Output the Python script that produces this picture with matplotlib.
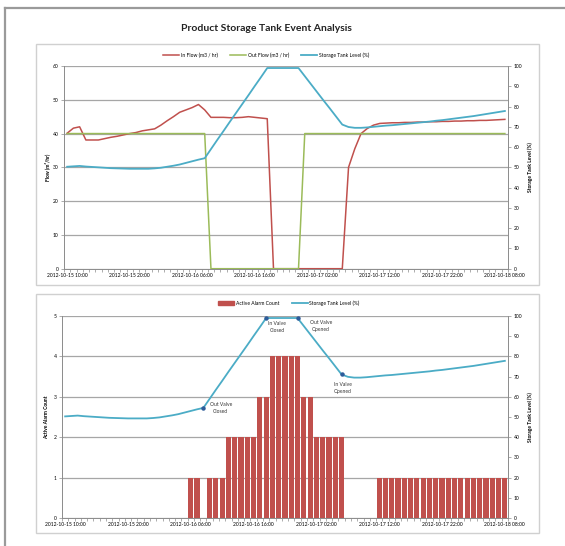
import matplotlib
matplotlib.use("Agg")
import matplotlib.pyplot as plt
from matplotlib.patches import FancyBboxPatch, Patch
from matplotlib.lines import Line2D

plt.rcParams['font.family'] = ['Lato', 'DejaVu Sans']

# hourly timestamps, 2012-10-15 10:00 .. 2012-10-18 08:00
hours = list(range(71))
tick_idx = [0, 10, 20, 30, 40, 50, 60, 70]
tick_labels = ["2012-10-15 10:00", "2012-10-15 20:00", "2012-10-16 06:00",
               "2012-10-16 16:00", "2012-10-17 02:00", "2012-10-17 12:00",
               "2012-10-17 22:00", "2012-10-18 08:00"]

in_flow = [40.1, 41.6, 42.0, 38.1, 38.1, 38.1, 38.5, 38.9, 39.2, 39.6,
           40.0, 40.3, 40.8, 41.1, 41.4, 42.5, 43.8, 45.0, 46.3, 47.0,
           47.7, 48.6, 47.0, 44.8, 44.8, 44.8, 44.7, 44.7, 44.8, 45.0,
           44.8, 44.6, 44.4, 0, 0, 0, 0, 0, 0, 0,
           0, 0, 0, 0, 0, 30.0, 35.5, 40.0, 41.5, 42.5,
           43.0, 43.1, 43.2, 43.2, 43.3, 43.3, 43.4, 43.4, 43.5, 43.5,
           43.6, 43.6, 43.7, 43.7, 43.8, 43.8, 43.9, 43.9, 44.0, 44.1, 44.2]

out_flow = [40] * 23 + [0] * 15 + [40] * 33

tank_level = [50.3, 50.5, 50.7, 50.4, 50.2, 50.0, 49.8, 49.6, 49.5, 49.4,
              49.3, 49.3, 49.3, 49.3, 49.5, 49.8, 50.3, 50.8, 51.4, 52.2,
              53.0, 53.8, 54.5, 59.0, 63.5, 67.9, 72.4, 76.8, 81.2, 85.6,
              90.1, 94.5, 99.0, 99.0, 99.0, 99.0, 99.0, 99.0, 95.0, 91.0,
              87.0, 83.0, 79.1, 75.1, 71.1, 69.9, 69.5, 69.5, 69.7, 70.0,
              70.3, 70.6, 70.8, 71.1, 71.4, 71.7, 72.0, 72.3, 72.6, 73.0,
              73.3, 73.7, 74.1, 74.5, 74.9, 75.3, 75.8, 76.3, 76.8, 77.3, 77.8]

alarm_count = [0] * 20 + [1, 1, 0, 1, 1, 1, 2, 2, 2, 2, 2, 3, 3, 4, 4, 4, 4, 4,
                          3, 3, 2, 2, 2, 2, 2, 0, 0, 0, 0, 0] + [1] * 21

event_idx = [22, 32, 37, 44]
event_text = ["Out Valve\nClosed", "In Valve\nClosed", "Out Valve\nOpened", "In Valve\nOpened"]
event_offset = [(12.5, 0), (8, -6.5), (17, -6), (1, -9.5)]

RED = "#C0504D"
GREEN = "#9BBB59"
BLUE = "#4BACC6"
GRID = "#A6A6A6"
AXIS = "#8C8C8C"
FS = 3.6

W, H = 565, 546
fig = plt.figure(figsize=(W / 100, H / 100), dpi=100)

# outer frame lines (left and top)
fig.add_artist(Line2D([5 / W, 5 / W], [0, 1 - 8 / H], color="#9A9A9A", lw=1.6))
fig.add_artist(Line2D([5 / W, 1], [1 - 8 / H, 1 - 8 / H], color="#9A9A9A", lw=1.6))

# chart boxes
for y0, y1 in [(44, 285), (294, 533)]:
    fig.add_artist(FancyBboxPatch((36 / W, 1 - y1 / H), 503 / W, (y1 - y0) / H,
                                  boxstyle="square,pad=0", fc="none", ec="#D0D0D0", lw=1.0))

fig.text(0.471, 0.947, "Product Storage Tank Event Analysis", ha="center", va="center",
         fontsize=7.5, fontweight="bold", color="#222222")


def style_axes(ax, ax2):
    ax.set_xlim(-0.5, len(hours) - 0.5)
    ax.set_xticks(tick_idx)
    ax.set_xticklabels(tick_labels)
    ax.set_xticks([i - 0.5 for i in range(len(hours) + 1)], minor=True)
    ax.tick_params(axis="x", which="major", length=0, labelsize=FS, pad=3)
    ax.tick_params(axis="x", which="minor", length=2, width=0.5, color=AXIS)
    ax.tick_params(axis="y", length=2, width=0.5, color=AXIS, labelsize=FS, pad=2)
    ax2.tick_params(axis="y", length=2, width=0.5, color=AXIS, labelsize=FS, pad=2)
    ax.grid(axis="y", color=GRID, lw=0.9)
    ax.set_axisbelow(True)
    for a in (ax, ax2):
        a.spines["top"].set_visible(False)
        for s in ["left", "right", "bottom"]:
            a.spines[s].set_color(AXIS)
            a.spines[s].set_linewidth(0.6)


# ---- top chart: flows and level ----
ax1 = fig.add_axes([64 / W, 1 - 268.7 / H, 444 / W, 202.7 / H])
ax1b = ax1.twinx()
ax1.plot(hours, in_flow, color=RED, lw=1.1, label="In Flow (m3 / hr)")
ax1.plot(hours, out_flow, color=GREEN, lw=1.1, label="Out Flow (m3 / hr)")
ax1b.plot(hours, tank_level, color=BLUE, lw=1.3, label="Storage Tank Level (%)")
ax1.set_ylim(0, 60)
ax1.set_yticks(range(0, 61, 10))
ax1b.set_ylim(0, 100)
ax1b.set_yticks(range(0, 101, 10))
style_axes(ax1, ax1b)
ax1.set_ylabel("Flow (m\u00b3/hr)", fontsize=FS, fontweight="bold", labelpad=2)
ax1b.set_ylabel("Storage Tank Level (%)", fontsize=FS, fontweight="bold", labelpad=3.5)
h1 = ax1.get_legend_handles_labels()
h2 = ax1b.get_legend_handles_labels()
fig.legend(h1[0] + h2[0], h1[1] + h2[1], loc="center", bbox_to_anchor=(0.471, 1 - 55 / H),
           ncol=3, frameon=False, fontsize=FS, handlelength=3.2, columnspacing=2.5,
           handletextpad=0.3)

# ---- bottom chart: alarms and level ----
ax2 = fig.add_axes([62 / W, 1 - 518 / H, 446 / W, 202 / H])
ax2b = ax2.twinx()
ax2.bar(hours, alarm_count, width=0.82, color=RED, label="Active Alarm Count")
ax2b.plot(hours, tank_level, color=BLUE, lw=1.3, label="Storage Tank Level (%)")
ax2b.plot(event_idx, [tank_level[i] for i in event_idx], ls="none", marker="o",
          ms=2.2, color="#2E5C9A")
for i, txt, off in zip(event_idx, event_text, event_offset):
    ax2b.annotate(txt, (i, tank_level[i]), xytext=off, textcoords="offset points",
                  ha="center", va="center", fontsize=FS, linespacing=1.5, color="#333333")
ax2.set_ylim(0, 5)
ax2.set_yticks(range(0, 6))
ax2b.set_ylim(0, 100)
ax2b.set_yticks(range(0, 101, 10))
style_axes(ax2, ax2b)
ax2.set_ylabel("Active Alarm Count", fontsize=FS, fontweight="bold", labelpad=3)
ax2b.set_ylabel("Storage Tank Level (%)", fontsize=FS, fontweight="bold", labelpad=3.5)
fig.legend([Patch(color=RED), Line2D([], [], color=BLUE, lw=1.3)],
           ["Active Alarm Count", "Storage Tank Level (%)"], loc="center",
           bbox_to_anchor=(0.511, 1 - 303 / H), ncol=2, frameon=False, fontsize=FS,
           handlelength=3.2, handleheight=0.6, columnspacing=2.5, handletextpad=0.3)

fig.savefig("out.png", dpi=100)
